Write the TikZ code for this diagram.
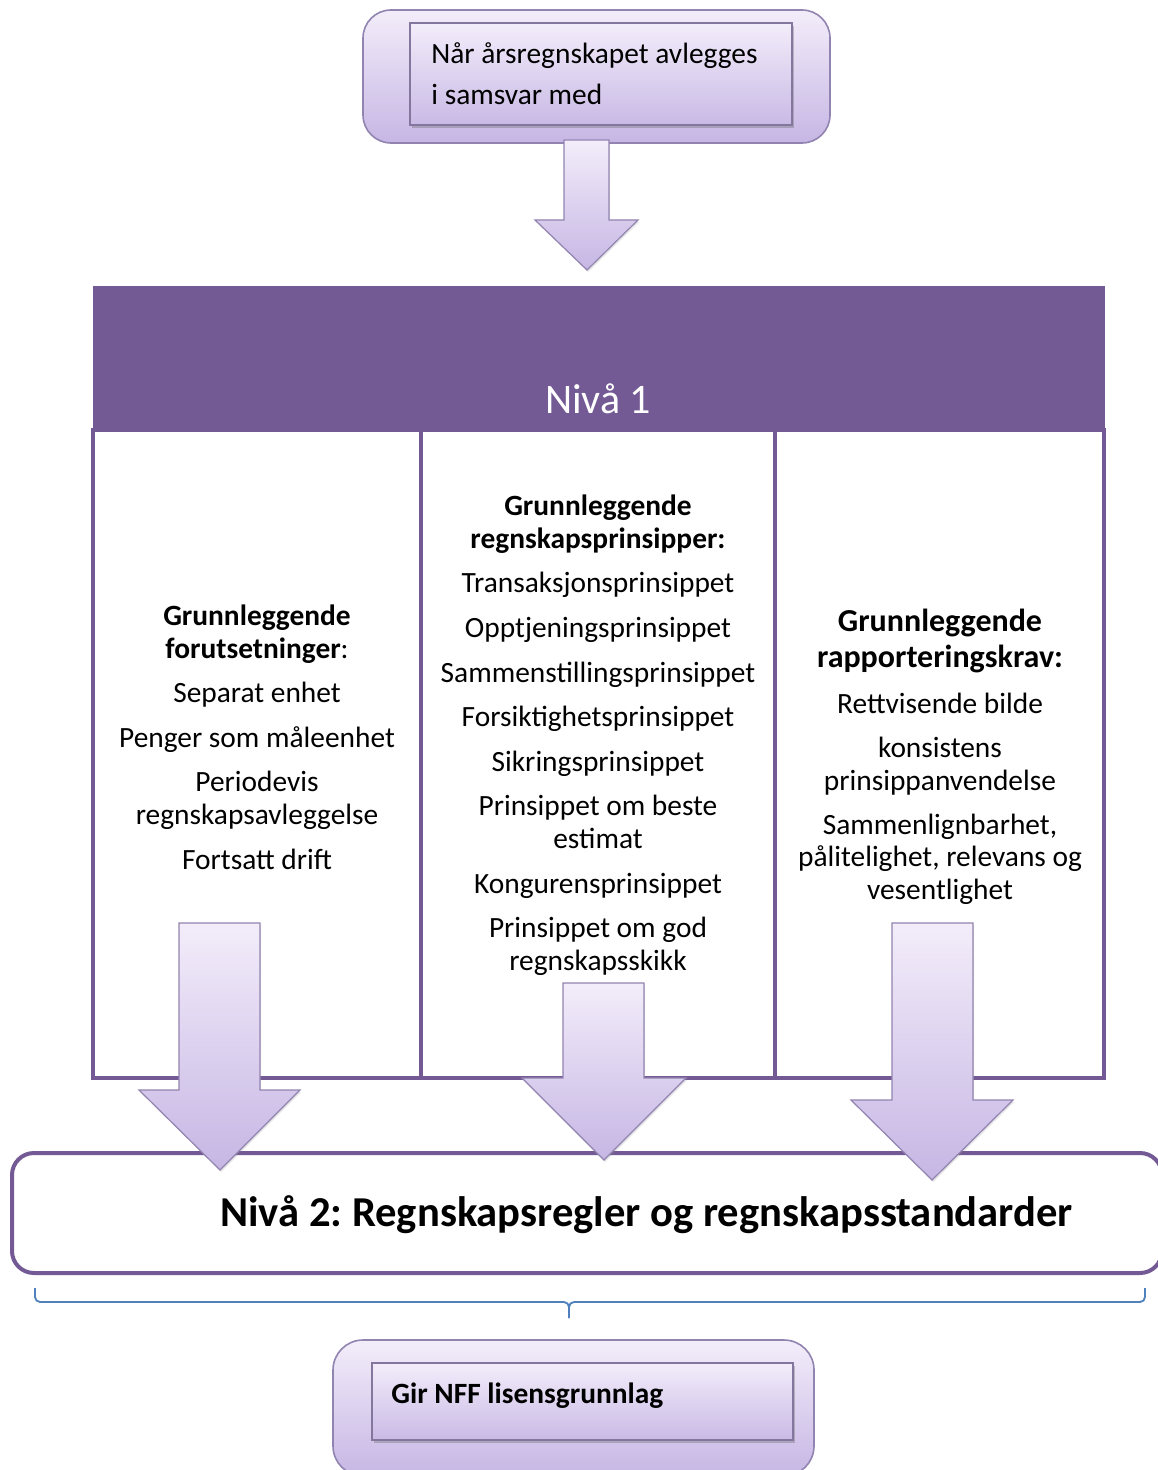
\documentclass[tikz,border=0pt]{standalone}
\usepackage{fontspec}
\setmainfont{Carlito}
\usetikzlibrary{shadows}
\frenchspacing

\definecolor{hdr}{RGB}{115,90,148}
\definecolor{lavtop}{RGB}{243,237,250}
\definecolor{lavbot}{RGB}{198,182,228}
\definecolor{lavedge}{RGB}{146,132,176}
\definecolor{bracec}{RGB}{79,129,189}

\begin{document}
\begin{tikzpicture}[x=0.5pt,y=-0.5pt,
  outerbox/.style={draw=lavedge, line width=0.8pt, rounded corners=14pt,
    top color=lavtop, bottom color=lavbot, inner sep=0pt},
  innerbox/.style={draw=lavedge!90!black, line width=0.6pt,
    top color=lavtop, bottom color=lavbot!95!white, inner sep=0pt,
    drop shadow={shadow xshift=0.8pt, shadow yshift=-1.4pt, opacity=0.35, fill=black!60}},
  blockarrow/.style={draw=lavedge, line width=0.6pt, top color=lavtop, bottom color=lavbot,
    drop shadow={shadow xshift=0.6pt, shadow yshift=-1pt, opacity=0.2, fill=black!50}},
  colbox/.style={draw=hdr, line width=2pt, fill=white, inner sep=0pt, outer sep=0pt, anchor=north west},
  txt/.style={font=\fontsize{14.7}{16.25}\selectfont, align=center, anchor=base, inner sep=0pt},
  boldtxt/.style={txt, font=\bfseries\fontsize{14.7}{16.5}\selectfont},
  bigtxt/.style={txt, font=\bfseries\fontsize{16}{18}\selectfont},
]
\useasboundingbox (0,0) rectangle (1157,1470);

% ---- top box ----
\node[outerbox, minimum width=233.5pt, minimum height=66.5pt] (top) at (596.5,76.5) {};
\node[innerbox, minimum width=191pt, minimum height=51pt] (topin) at (601,74) {};
% anchor=base of a multi-line node sits on its last line
\node[anchor=base west, align=left, inner sep=0pt, font=\fontsize{14.7}{20.5}\selectfont] (toptxt)
  at (431,105) {Når årsregnskapet avlegges\\i samsvar med};

% ---- level 1 header and columns ----
\node[fill=hdr, minimum width=506pt, minimum height=73pt, anchor=north west, inner sep=0pt, outer sep=0pt] (hdr) at (93,286) {};
\node[anchor=base, inner sep=0pt, text=white, font=\fontsize{21}{24}\selectfont] (niva1) at (598,414) {Nivå 1};

\node[colbox, minimum width=164pt, minimum height=324pt] (col1) at (93,430) {};
\node[colbox, minimum width=177pt, minimum height=324pt] (col2) at (421,430) {};
\node[colbox, minimum width=164.5pt, minimum height=324pt] (col3) at (775,430) {};

% column 1
\node[txt, font=\fontsize{14.7}{16.5}\selectfont] (c1h) at (257,658) {\textbf{Grunnleggende}\\\textbf{forutsetninger}:};
\node[txt] (c1a) at (257,702) {Separat enhet};
\node[txt] (c1b) at (257,747) {Penger som måleenhet};
\node[txt] (c1c) at (257,824) {Periodevis\\regnskapsavleggelse};
\node[txt] (c1d) at (257,869) {Fortsatt drift};

% column 2
\node[boldtxt] (c2h) at (598,548) {Grunnleggende\\regnskapsprinsipper:};
\node[txt] (c2a) at (598,592) {Transaksjonsprinsippet};
\node[txt] (c2b) at (598,637) {Opptjeningsprinsippet};
\node[txt] (c2c) at (598,682) {Sammenstillingsprinsippet};
\node[txt] (c2d) at (598,726) {Forsiktighetsprinsippet};
\node[txt] (c2e) at (598,771) {Sikringsprinsippet};
\node[txt] (c2f) at (598,848) {Prinsippet om beste\\estimat};
\node[txt] (c2g) at (598,893) {Kongurensprinsippet};
\node[txt] (c2h2) at (598,970) {Prinsippet om god\\regnskapsskikk};

% column 3
\node[bigtxt] (c3h) at (940,667) {Grunnleggende\\rapporteringskrav:};
\node[txt] (c3a) at (940,713) {Rettvisende bilde};
\node[txt] (c3b) at (940,790) {konsistens\\prinsippanvendelse};
\node[txt] (c3c) at (940,899) {Sammenlignbarhet,\\pålitelighet, relevans og\\vesentlighet};

% ---- level 2 box ----
\node[draw=hdr, line width=2pt, fill=white, rounded corners=11pt, minimum width=575pt,
  minimum height=60pt, inner sep=0pt] (niva2box) at (587,1213) {};
\node[anchor=base west, inner sep=0pt, font=\bfseries\fontsize{21.3}{24}\selectfont] (niva2)
  at (220,1226) {Nivå 2: Regnskapsregler og regnskapsstandarder};

% ---- block arrows ----
\draw[blockarrow] (564,140) -- (609,140) -- (609,220) -- (638,220) -- (587,270)
  -- (535,220) -- (564,220) -- cycle;
\draw[blockarrow] (179,923) -- (260,923) -- (260,1090) -- (300,1090) -- (220,1170)
  -- (139,1090) -- (179,1090) -- cycle;
\draw[blockarrow] (563,983) -- (644,983) -- (644,1078) -- (686,1078) -- (604,1160)
  -- (522,1078) -- (563,1078) -- cycle;
\draw[blockarrow] (892,923) -- (973,923) -- (973,1100) -- (1013,1100) -- (932,1180)
  -- (851,1100) -- (892,1100) -- cycle;

% ---- brace under level 2 ----
\coordinate (bl) at (35,1288);
\coordinate (br) at (1145,1288);
\coordinate (bm) at (569,1318);
\draw[bracec, line width=0.9pt, rounded corners=2.5pt]
  (bl) -- (35,1302) -- (569,1302) -- (bm);
\draw[bracec, line width=0.9pt, rounded corners=2.5pt]
  (bm) -- (569,1302) -- (1145,1302) -- (br);

% ---- bottom box ----
\node[outerbox, rounded corners=15pt, minimum width=240.5pt, minimum height=68pt] (bot) at (573.5,1408) {};
\node[innerbox, minimum width=210.5pt, minimum height=38.5pt] (botin) at (582.5,1401.5) {};
\node[anchor=base west, inner sep=0pt, font=\bfseries\fontsize{14.7}{16}\selectfont] (bottxt)
  at (391,1403) {Gir NFF lisensgrunnlag};
\end{tikzpicture}
\end{document}
